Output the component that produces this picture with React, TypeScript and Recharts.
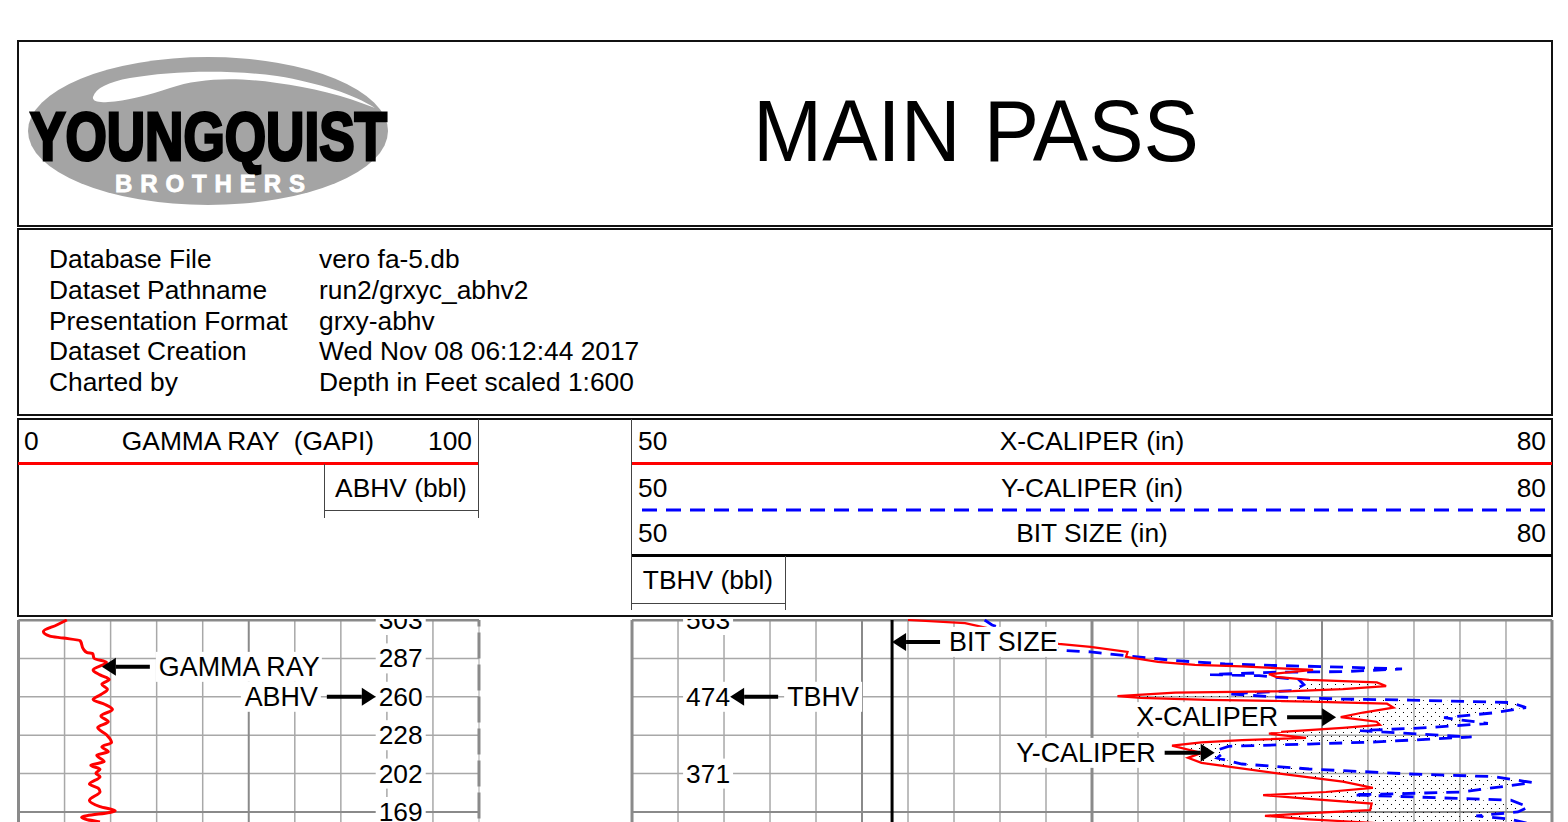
import { CSSProperties, ReactNode } from 'react';
import { ComposedChart, Scatter, XAxis, YAxis, CartesianGrid, ReferenceLine, ReferenceDot } from 'recharts';

// Depth runs in feet from the top of the visible log section, one grid cell = 10
const depthGrid = [0, 10, 20, 30, 40, 60];
const DEPTH_MAX = 60;

const gammaTicks = [10, 20, 30, 40, 60, 70, 80, 90];
const caliperTicks = [51.5, 53, 54.5, 56, 59, 60.5, 62, 63.5, 66.5, 68, 69.5, 71, 74, 75.5, 77, 78.5];
const caliperMajor = [57.5, 72.5];
const caliperEdge = [50, 65, 80];

const gammaDepth = [0, 1.3, 3, 4.2, 4.7, 5.4, 7.6, 8.5, 8.7, 10, 11, 13, 14.3, 15.5, 16.7, 18.1, 19.4, 20.7, 22, 23.3, 25, 26.5, 28, 29.9, 31.9, 33, 34.3, 35.2, 36.9, 37.8, 38.9, 39.9, 40.8, 42.7, 43.8, 44.7, 47, 48.6, 49.7, 51.4, 52.6];
const gammaValues = [10.5, 8.3, 5.4, 6.8, 9.7, 13.4, 14.1, 14.9, 16.1, 16.4, 19.1, 16.2, 17.7, 19.7, 18.1, 19.3, 17.9, 16.2, 18.8, 20.4, 17.9, 19.5, 17.2, 19.1, 20.2, 18.1, 19.5, 17, 18.6, 15.7, 17.7, 16.8, 17.7, 15.4, 17.3, 17.7, 15.4, 17.7, 21, 13.7, 17.7];

const xCalDepth = [0, 0.8, 6.2, 7, 8.3, 9.6, 10.9, 11.7, 12.1, 13, 14.1, 14.8, 15.6, 16.25, 17.2, 18, 18.5, 18.9, 19.8, 20.3, 20.8, 21.25, 21.8, 22.8, 24.1, 25.3, 26.5, 27.3, 28.1, 29.2, 29.6, 30.7, 31.3, 31.85, 32.7, 34.6, 35.9, 37.2, 39.9, 42.1, 43.7, 44.8, 45.6, 46.6, 47.8, 49.5, 50.3, 51, 51.9, 53.1];
const xCalValues = [59, 60.86, 63.91, 64.95, 66.16, 66.11, 67.15, 68.36, 69.89, 72.21, 70.77, 71, 72.08, 74.29, 74.59, 73.18, 71.54, 67.71, 65.83, 66.6, 68.78, 72.08, 74.62, 74.83, 73.84, 73.11, 74.28, 74.39, 73.18, 71.05, 70.77, 71.98, 69.89, 68.57, 67.61, 68.57, 68.13, 68.57, 70.99, 73.18, 74.16, 72.63, 70.58, 72.08, 74.12, 74.07, 72.08, 70.64, 72.08, 74.72];

const yCalDepth = [0, 1.3, 7.9, 8.3, 9.25, 10.55, 11.45, 11.85, 12.15, 12.75, 13.45, 13.6, 14.2, 14.5, 15.55, 16.85, 18.4, 19.25, 20.05, 20.6, 20.85, 21.5, 22.8, 24.15, 25.45, 26.95, 28.05, 28.8, 30.45, 31.75, 32.3, 32.9, 33.8, 34.9, 35.95, 37.5, 38.8, 40.1, 40.8, 42.35, 44.8, 45.55, 46.35, 46.9, 48.7, 50, 51, 51.9, 52.9];
const yCalValues = [61.5, 61.74, 64.02, 64.95, 66.04, 67.71, 69.34, 71, 72.63, 75.11, 73.18, 71, 68.85, 70.45, 71.75, 71.91, 71.54, 69.45, 71, 73.18, 75.37, 78.66, 79.15, 78.13, 76.48, 77.91, 75.92, 73.74, 77.38, 74.28, 72.08, 69.45, 69.11, 69.24, 69.08, 69.89, 72.08, 75.37, 78.13, 79.37, 77.03, 73.51, 76.48, 78.66, 79.22, 78.89, 77.53, 78.66, 79.17];

const bitDepth = [0, 60];
const bitValues = [58.48, 58.48];

// stippled washout between the two calipers
const washDepth = [15.6, 16.25, 17.2, 18, 18.5, 19.25, 19.8, 20.3, 20.8, 21.25, 21.8, 22.8, 24.1, 25.3, 26.5, 27.3, 28.1, 28.8, 29.6, 30.45, 31.3, 31.85, 32.3, 32.7, 33.8, 34.6, 35.9, 37.2, 37.5, 38.8, 39.9, 40.8, 42.1, 43.7, 44.8, 45.6, 46.6, 47.8, 49.5, 50.3, 51, 51.9, 53];
const washLow = [71.9, 71.9, 71.8, 71.6, 71.5, 66.9, 65.9, 66.6, 68.78, 72.08, 74.62, 74.83, 73.84, 73.11, 74.28, 74.39, 73.18, 71.8, 70.77, 71.7, 69.89, 68.57, 68, 67.61, 68, 68.57, 68.13, 68.57, 68.7, 69.9, 70.99, 71.9, 73.18, 74.16, 72.63, 70.58, 72.08, 74.12, 74.07, 72.08, 70.64, 72.08, 74.8];
const washHigh = [72, 74.3, 74.6, 73.2, 71.5, 69.45, 70.3, 71.8, 75.3, 77.4, 78.9, 79.15, 78.1, 76.55, 77.5, 77.1, 75.9, 73.74, 75.5, 77.38, 75.8, 74, 72.08, 70.2, 69.11, 69.2, 69.08, 69.7, 69.89, 72.08, 74.9, 78.13, 79.2, 78, 77.03, 73.6, 77.2, 79, 79, 78.5, 77.53, 78.66, 79.2];

const abhvDepth = [0, 10, 20, 30, 40, 50];
const abhvLabels = ['303', '287', '260', '228', '202', '169'];
const tbhvDepth = [0, 20, 40];
const tbhvLabels = ['563', '474', '371'];
const scaleDepth = [0, 50];
const scaleLabels = ['0', '50'];

const infoKeys = ['Database File', 'Dataset Pathname', 'Presentation Format', 'Dataset Creation', 'Charted by'];
const infoValues = ['vero fa-5.db', 'run2/grxyc_abhv2', 'grxy-abhv', 'Wed Nov 08 06:12:44 2017', 'Depth in Feet scaled 1:600'];

const table = (depth: number[], values: number[]) => depth.map((d, i) => ({ d, v: values[i] }));
const gammaData = table(gammaDepth, gammaValues);
const xCalData = table(xCalDepth, xCalValues);
const yCalData = table(yCalDepth, yCalValues);
const bitData = table(bitDepth, bitValues);
// closed outline: down the low side, back up the high side
const washData = [...table(washDepth, washLow), ...table(washDepth, washHigh).reverse()];

const FONT = '"Liberation Sans", Arial, sans-serif';
const MINOR = '#a8a8a8';
const MAJOR = '#8a8a8a';
const PX_PER_CELL = 38.4;
const CHART_H = (DEPTH_MAX / 10) * PX_PER_CELL + 2;
const noDot = () => <g />;

function Txt({ x, y, align = 'left', children, style }: { x: number; y: number; align?: 'left' | 'center' | 'right'; children: ReactNode; style?: CSSProperties }) {
  const tx = align === 'left' ? '0' : align === 'center' ? '-50%' : '-100%';
  return (
    <div style={{ position: 'absolute', left: x, top: y, transform: `translate(${tx}, -50%)`, whiteSpace: 'pre', fontSize: 26.35, lineHeight: '30px', color: '#000', ...style }}>
      {children}
    </div>
  );
}

function Rule({ x, y, w, h, color = '#000' }: { x: number; y: number; w: number; h: number; color?: string }) {
  return <div style={{ position: 'absolute', left: x, top: y, width: w, height: h, background: color }} />;
}

function Frame({ y, h }: { y: number; h: number }) {
  return <div style={{ position: 'absolute', left: 17, top: y, width: 1536, height: h, border: '2px solid #111', boxSizing: 'border-box' }} />;
}

function Logo() {
  return (
    <svg width={380} height={170} style={{ position: 'absolute', left: 20, top: 48 }} viewBox="20 48 380 170">
      <ellipse cx={208} cy={131} rx={180} ry={74} fill="#a4a4a4" />
      <path d="M93 97 C96 88 108 82 130 78 C170 71 225 69 277 76 C320 83 355 95 375 108 C345 96 310 87 277 83 C235 77 200 78 170 88 C150 95 125 101 108 102 C98 103 92 101 93 97 Z" fill="#fff" />
      <text x={30} y={160} fontFamily={FONT} fontWeight={700} fontSize={68} textLength={357} lengthAdjust="spacingAndGlyphs" fill="#000" stroke="#000" strokeWidth={3}>YOUNGQUIST</text>
      <text x={115} y={192} fontFamily={FONT} fontWeight={700} fontSize={24} textLength={190} fill="#fff" stroke="#fff" strokeWidth={0.8}>BROTHERS</text>
    </svg>
  );
}

function Header() {
  return (
    <>
      <Frame y={40} h={187} />
      <Logo />
      <Txt x={976} y={131} align="center" style={{ fontSize: 88, lineHeight: '100px', transform: 'translate(-50%, -50%) scaleX(0.943)' }}>MAIN PASS</Txt>

      <Frame y={228} h={188} />
      {infoKeys.map((k, i) => <Txt key={k} x={49} y={259 + i * 30.75}>{k}</Txt>)}
      {infoValues.map((v, i) => <Txt key={v} x={319} y={259 + i * 30.75}>{v}</Txt>)}

      <Frame y={418} h={199} />
      <Txt x={24} y={441}>0</Txt>
      <Txt x={248} y={441} align="center">{'GAMMA RAY  (GAPI)'}</Txt>
      <Txt x={472} y={441} align="right">100</Txt>
      <Rule x={18} y={462} w={461} h={3} color="#f00" />
      <Rule x={478} y={419} w={1} h={99} color="#444" />
      <Rule x={324} y={464} w={1} h={54} color="#444" />
      <Rule x={324} y={510} w={154} h={1} color="#444" />
      <Txt x={401} y={488} align="center">ABHV (bbl)</Txt>

      <Rule x={631} y={419} w={1} h={191} color="#444" />
      <Rule x={632} y={462} w={920} h={3} color="#f00" />
      <svg width={920} height={4} style={{ position: 'absolute', left: 632, top: 508 }}>
        <line x1={10} x2={920} y1={2} y2={2} stroke="#00f" strokeWidth={3} strokeDasharray="15 9" />
      </svg>
      <Rule x={632} y={554} w={920} h={3} />
      <Txt x={638} y={441}>50</Txt>
      <Txt x={1092} y={441} align="center">X-CALIPER (in)</Txt>
      <Txt x={1546} y={441} align="right">80</Txt>
      <Txt x={638} y={488}>50</Txt>
      <Txt x={1092} y={488} align="center">Y-CALIPER (in)</Txt>
      <Txt x={1546} y={488} align="right">80</Txt>
      <Txt x={638} y={533}>50</Txt>
      <Txt x={1092} y={533} align="center">BIT SIZE (in)</Txt>
      <Txt x={1546} y={533} align="right">80</Txt>
      <Rule x={785} y={556} w={1} h={54} color="#444" />
      <Rule x={632} y={603} w={154} h={1} color="#444" />
      <Txt x={708} y={580} align="center">TBHV (bbl)</Txt>
    </>
  );
}

// white boxed number sitting on the grid
const boxedLabel = (text: string) => (props: any) => (
  <g>
    <rect x={props.cx - 25} y={props.cy - 15} width={50} height={30} fill="#fff" />
    <text x={props.cx} y={props.cy + 9} textAnchor="middle" fontFamily={FONT} fontSize={26.35} fill="#000">{text}</text>
  </g>
);

// name + arrow callout; side says which way the text lies from the arrow tip
const callout = (text: string, side: 1 | -1, tail: number, textW: number) => (props: any) => {
  const { cx, cy } = props;
  const head = 14;
  const tailX = cx + side * tail;
  const textEdge = tailX + side * 9;
  return (
    <g>
      <rect x={side > 0 ? textEdge - 3 : textEdge - textW - 3} y={cy - 15} width={textW + 6} height={30} fill="#fff" />
      <line x1={tailX} x2={cx + side * head} y1={cy} y2={cy} stroke="#000" strokeWidth={4} />
      <polygon points={`${cx},${cy} ${cx + side * head},${cy - 9} ${cx + side * head},${cy + 9}`} fill="#000" />
      <text x={textEdge} y={cy + 9} textAnchor={side > 0 ? 'start' : 'end'} fontFamily={FONT} fontSize={26.9} fill="#000">{text}</text>
    </g>
  );
};

function GammaTrack() {
  return (
    <ComposedChart width={464} height={CHART_H} margin={{ top: 1, right: 2, bottom: 1, left: 1.5 }} style={{ position: 'absolute', left: 17, top: 619 }}>
      <XAxis type="number" dataKey="v" domain={[0, 100]} hide />
      <YAxis type="number" dataKey="d" domain={[0, DEPTH_MAX]} reversed hide />
      <CartesianGrid stroke={MINOR} strokeWidth={1.5} verticalValues={gammaTicks} horizontalValues={depthGrid} />
      <ReferenceLine x={0} stroke={MAJOR} strokeWidth={3} />
      <ReferenceLine x={50} stroke={MAJOR} strokeWidth={2} />
      <ReferenceLine x={100} stroke={MINOR} strokeWidth={1} />
      <ReferenceLine x={100} stroke={MAJOR} strokeWidth={3} strokeDasharray="26 6" />
      <ReferenceLine y={0} stroke={MAJOR} strokeWidth={3} />
      <ReferenceLine y={50} stroke={MAJOR} strokeWidth={2} />
      <Scatter data={gammaData} dataKey="v" line={{ stroke: '#f00', strokeWidth: 3 }} lineJointType="monotoneY" shape={noDot} isAnimationActive={false} />
      {abhvDepth.map((d, i) => <ReferenceDot key={d} x={83} y={d} shape={boxedLabel(abhvLabels[i])} />)}
      <ReferenceDot x={18.1} y={12.2} shape={callout('GAMMA RAY', 1, 48, 160)} />
      <ReferenceDot x={77.6} y={20} shape={callout('ABHV', -1, 49, 74)} />
    </ComposedChart>
  );
}

function ScaleTrack() {
  return (
    <ComposedChart width={150} height={CHART_H} margin={{ top: 1, right: 0, bottom: 1, left: 0 }} style={{ position: 'absolute', left: 480, top: 619 }}>
      <XAxis type="number" domain={[0, 150]} hide />
      <YAxis type="number" domain={[0, DEPTH_MAX]} reversed hide />
      {scaleDepth.map((d, i) => <ReferenceDot key={d} x={75} y={d} shape={boxedLabel(scaleLabels[i])} />)}
    </ComposedChart>
  );
}

function CaliperTrack() {
  return (
    <ComposedChart width={924} height={CHART_H} margin={{ top: 1, right: 2, bottom: 1, left: 2 }} style={{ position: 'absolute', left: 630, top: 619 }}>
      <defs>
        <pattern id="stipple" width={8} height={8} patternUnits="userSpaceOnUse">
          <rect x={1} y={1} width={1} height={1} fill="#000" />
          <rect x={5} y={5} width={1} height={1} fill="#000" />
        </pattern>
      </defs>
      <XAxis type="number" dataKey="v" domain={[50, 80]} hide />
      <YAxis type="number" dataKey="d" domain={[0, DEPTH_MAX]} reversed hide />
      <CartesianGrid stroke={MINOR} strokeWidth={1.5} verticalValues={caliperTicks} horizontalValues={depthGrid} />
      {caliperMajor.map(c => <ReferenceLine key={c} x={c} stroke={MAJOR} strokeWidth={2} />)}
      {caliperEdge.map(c => <ReferenceLine key={c} x={c} stroke={MAJOR} strokeWidth={3} />)}
      <ReferenceLine y={0} stroke={MAJOR} strokeWidth={3} />
      <ReferenceLine y={50} stroke={MAJOR} strokeWidth={2} />
      <Scatter data={washData} dataKey="v" line={{ fill: 'url(#stipple)', stroke: 'none' }} shape={noDot} isAnimationActive={false} />
      <Scatter data={bitData} dataKey="v" line={{ stroke: '#000', strokeWidth: 3 }} shape={noDot} isAnimationActive={false} />
      <Scatter data={yCalData} dataKey="v" line={{ stroke: '#00f', strokeWidth: 2.8, strokeDasharray: '13 9' }} shape={noDot} isAnimationActive={false} />
      <Scatter data={xCalData} dataKey="v" line={{ stroke: '#f00', strokeWidth: 2.2 }} shape={noDot} isAnimationActive={false} />
      {tbhvDepth.map((d, i) => <ReferenceDot key={d} x={52.48} y={d} shape={boxedLabel(tbhvLabels[i])} />)}
      <ReferenceDot x={53.2} y={20} shape={callout('TBHV', 1, 48, 72)} />
      <ReferenceDot x={58.48} y={5.7} shape={callout('BIT SIZE', 1, 48, 106)} />
      <ReferenceDot x={72.96} y={25.3} shape={callout('X-CALIPER', -1, 49, 142)} />
      <ReferenceDot x={69} y={34.6} shape={callout('Y-CALIPER', -1, 50, 141)} />
    </ComposedChart>
  );
}

export default function App() {
  return (
    <div style={{ position: 'absolute', left: 0, top: 0, width: 1568, height: 822, overflow: 'hidden', background: '#fff', fontFamily: FONT }}>
      <Header />
      <GammaTrack />
      <ScaleTrack />
      <CaliperTrack />
    </div>
  );
}
